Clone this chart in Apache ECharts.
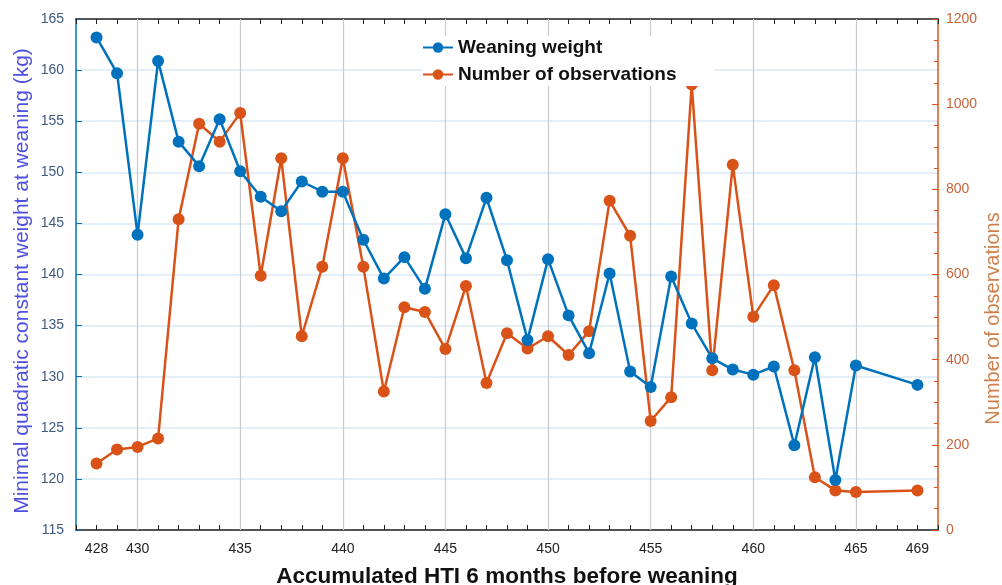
<!DOCTYPE html>
<html>
<head>
<meta charset="utf-8">
<script src="https://cdn.jsdelivr.net/npm/echarts@6/dist/echarts.min.js"></script>
<style>
html,body{margin:0;padding:0;background:#fff;}
#chart{width:1002px;height:585px;}
</style>
</head>
<body>
<div id="chart"></div>
<script>
// Axis slots (evenly spaced on the x axis); blank slots have no data
const xCategories = ['428','429','430','431','432','433','434','435','436','437','438','439','440',
  '441','442','443','444','445','446','447','448','449','450','451','452','453','454','455','456',
  '457','458','459','460','461','462','463','464','465','','','469'];
const xLabelShown = ['428','430','435','440','445','450','455','460','465','469'];

const weaningWeight = [163.2,159.7,143.9,160.9,153.0,150.6,155.2,150.1,147.6,146.2,149.1,148.1,148.1,
  143.4,139.6,141.7,138.6,145.9,141.6,147.5,141.4,133.6,141.5,136.0,132.3,140.1,130.5,129.0,139.8,
  135.2,131.8,130.7,130.2,131.0,123.3,131.9,119.9,131.1,null,null,129.2];

const observations = [156,189,195,215,730,954,912,979,597,873,455,618,873,
  618,325,523,512,425,573,345,462,426,455,411,467,773,691,256,312,
  1046,375,858,501,575,375,124,93,89,null,null,93];

const leftTicks = {min:115, max:165, interval:5};
const rightTicks = {min:0, max:1200, interval:200};

function toPairs(arr){
  const out=[];
  arr.forEach((v,i)=>{ if(v!==null) out.push([i,v]); });
  return out;
}
const vGridLines = xCategories.map((c,i)=>({c,i}))
  .filter(o=>o.c!=='' && Number(o.c)%5===0).map(o=>({xAxis:o.i}));

const BLUE='#0072BD', ORANGE='#D95319';
const tickFont = {fontFamily:'"Liberation Sans Narrow","Liberation Sans",Arial,sans-serif', fontSize:14};
const SANS = 'Arial,"Liberation Sans",sans-serif';

const chart = echarts.init(document.getElementById('chart'));
chart.setOption({
  animation:false,
  backgroundColor:'#fff',
  grid:{left:76,right:64,top:19,bottom:55,containLabel:false,outerBoundsMode:'none'},
  legend:{
    orient:'vertical', left:422, top:36,
    backgroundColor:'#fff', padding:[2,38,2,0], itemGap:8,
    itemWidth:30, itemHeight:13,
    textStyle:{fontFamily:SANS,fontSize:19,fontWeight:'bold',color:'#111'},
    data:['Weaning weight','Number of observations']
  },
  xAxis:[{
    type:'value', min:-1, max:xCategories.length, interval:1,
    name:'Accumulated HTI 6 months before weaning',
    nameLocation:'middle', nameGap:35,
    nameTextStyle:{fontFamily:SANS,fontSize:22.5,fontWeight:'bold',color:'#111'},
    axisLine:{onZero:false,lineStyle:{color:'#222',width:1.5}},
    axisTick:{inside:true,length:5,lineStyle:{color:'#222'}},
    axisLabel:Object.assign({color:'#222',margin:12,showMinLabel:true,showMaxLabel:true,
      formatter:v=>{const c=xCategories[v]; return (c!==undefined && xLabelShown.includes(c))?c:'';}},tickFont),
    splitLine:{show:false}
  },{
    type:'value', position:'top', min:-1, max:xCategories.length, interval:1,
    axisLine:{onZero:false,lineStyle:{color:'#222',width:1.5}},
    axisTick:{inside:true,length:5,lineStyle:{color:'#222'}},
    axisLabel:{show:false}, splitLine:{show:false}
  }],
  yAxis:[{
    type:'value', position:'left', min:leftTicks.min, max:leftTicks.max, interval:leftTicks.interval,
    name:'Minimal quadratic constant weight at weaning (kg)',
    nameLocation:'middle', nameGap:43, nameMoveOverlap:false,
    nameTextStyle:{fontFamily:SANS,fontSize:21,color:'#5050E0',padding:[0,13,0,0]},
    axisLine:{show:true,onZero:false,lineStyle:{color:BLUE,width:1.5}},
    axisTick:{show:true,inside:true,length:6,lineStyle:{color:BLUE}},
    axisLabel:Object.assign({color:'#405a80',margin:12},tickFont),
    splitLine:{show:true,lineStyle:{color:'#dbe8f3',width:1.5}}
  },{
    type:'value', position:'right', min:rightTicks.min, max:rightTicks.max, interval:rightTicks.interval,
    name:'Number of observations',
    nameLocation:'middle', nameGap:45, nameMoveOverlap:false,
    nameTextStyle:{fontFamily:SANS,fontSize:20,color:'#D0804A',padding:[0,88,0,0]},
    axisLine:{show:true,onZero:false,lineStyle:{color:ORANGE,width:1.5}},
    axisTick:{show:true,inside:true,length:6,lineStyle:{color:ORANGE}},
    minorTick:{show:true,splitNumber:4,length:4,lineStyle:{color:ORANGE}},
    axisLabel:Object.assign({color:'#C8643A',margin:8,formatter:v=>String(v)},tickFont),
    splitLine:{show:false}
  }],
  series:[{
    name:'Weaning weight', type:'line', xAxisIndex:0, yAxisIndex:0,
    data:toPairs(weaningWeight),
    symbol:'circle', symbolSize:12,
    lineStyle:{color:BLUE,width:2.5}, itemStyle:{color:BLUE},
    z:3,
    markLine:{silent:true,symbol:'none',label:{show:false},
      lineStyle:{color:'#c8cdd2',width:1.2,type:'solid'},data:vGridLines, z:1}
  },{
    name:'Number of observations', type:'line', xAxisIndex:0, yAxisIndex:1,
    data:toPairs(observations),
    symbol:'circle', symbolSize:12,
    lineStyle:{color:ORANGE,width:2.5}, itemStyle:{color:ORANGE},
    z:2
  }]
});
</script>
</body>
</html>
